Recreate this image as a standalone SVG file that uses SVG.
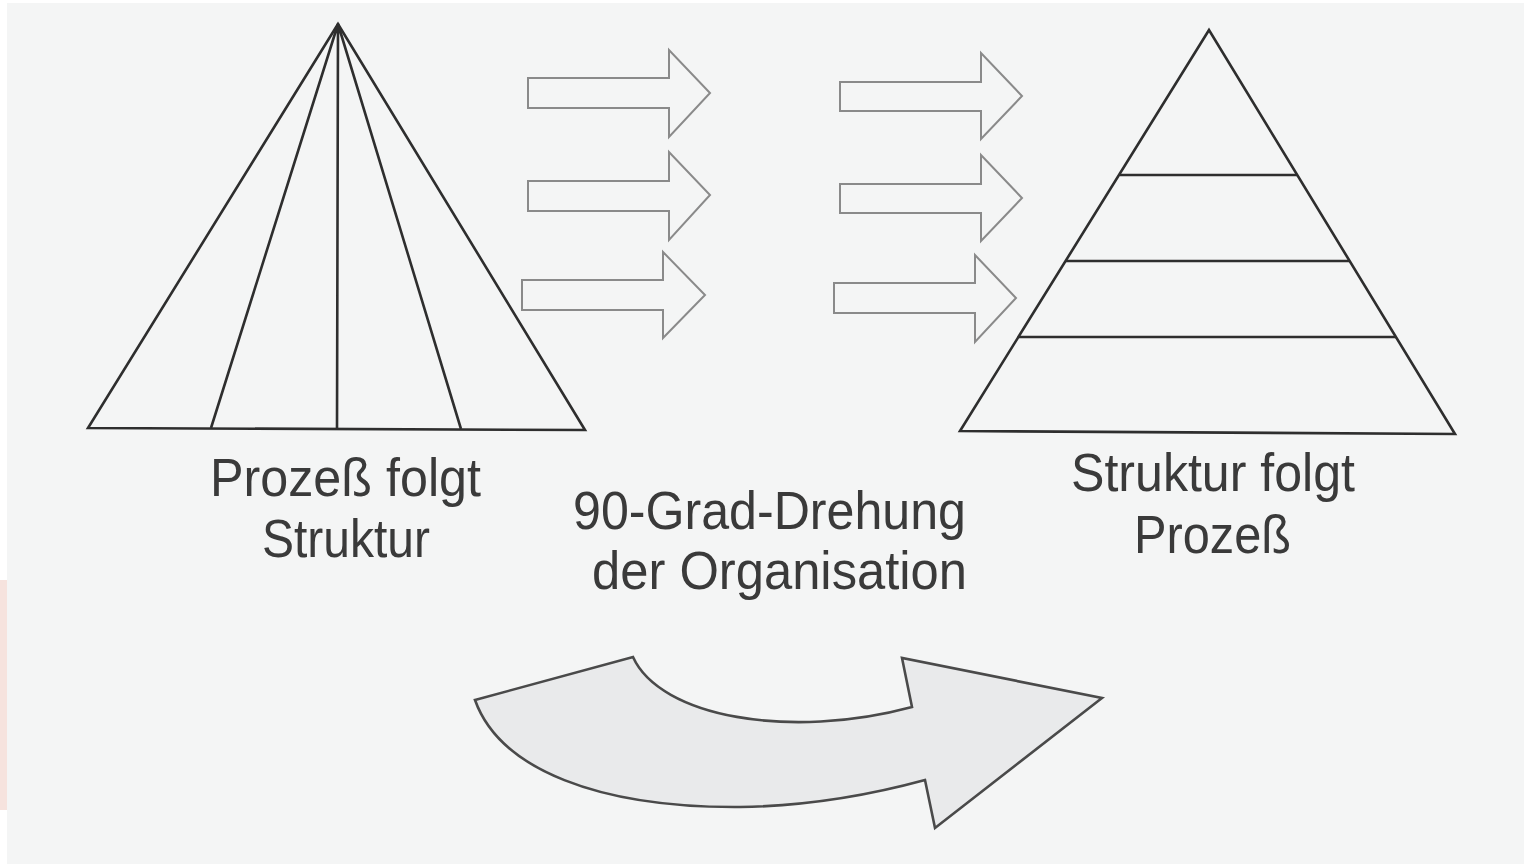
<svg xmlns="http://www.w3.org/2000/svg" width="1524" height="864" viewBox="0 0 1524 864">
<style>
.tri{fill:none;stroke:#2e2e2e;stroke-width:2.6;stroke-linejoin:miter}
.blk{fill:#f4f5f5;stroke:#8a8a8a;stroke-width:2}
.cur{fill:#e9eaeb;stroke:#4a4a4a;stroke-width:2.6;stroke-linejoin:miter}
.lbl{font-family:"Liberation Sans",Arial,sans-serif;font-size:54px;fill:#3a3a3a}
</style>
<rect x="0" y="0" width="1524" height="864" fill="#ffffff"/>
<rect x="0" y="580" width="8" height="230" fill="#f6e3de"/>
<rect x="7" y="3" width="1517" height="861" fill="#f4f5f5"/>

<g id="pyramid-left">
<path class="tri" d="M338,24 L88,428 L585,430 Z"/>
<path class="tri" d="M338,24 L211,428 M338,24 L337,429 M338,24 L461,429"/>
</g>

<g id="pyramid-right">
<path class="tri" d="M1209,30 L960,431 L1455,434 Z"/>
<path class="tri" d="M1120,175 L1297,175 M1066,261 L1350,261 M1019,337 L1396,337"/>
</g>

<g id="connectors">
<path class="blk" d="M528,78 L669,78 L669,50 L710,93 L669,137 L669,108 L528,108 Z"/>
<path class="blk" d="M528,181 L669,181 L669,152 L710,195 L669,240 L669,211 L528,211 Z"/>
<path class="blk" d="M522,280 L663,280 L663,252 L705,295 L663,338 L663,310 L522,310 Z"/>
<path class="blk" d="M840,82 L981,82 L981,53 L1022,96 L981,139 L981,111 L840,111 Z"/>
<path class="blk" d="M840,184 L981,184 L981,155 L1022,198 L981,241 L981,213 L840,213 Z"/>
<path class="blk" d="M834,283 L975,283 L975,255 L1016,298 L975,342 L975,313 L834,313 Z"/>
<path class="cur" d="M475,700 L633,657 C660,717 790,740 912,707 L902,658 L1102,698 L935,828 L925,780 C870,795 810,806 740,807 C600,808 500,770 475,700 Z"/>
</g>

<g id="label-left">
<text class="lbl" x="210" y="496" textLength="271" lengthAdjust="spacingAndGlyphs">Prozeß folgt</text>
<text class="lbl" x="262" y="557" textLength="168" lengthAdjust="spacingAndGlyphs">Struktur</text>
</g>
<g id="label-middle">
<text class="lbl" x="573" y="529" textLength="393" lengthAdjust="spacingAndGlyphs">90-Grad-Drehung</text>
<text class="lbl" x="592" y="589" textLength="375" lengthAdjust="spacingAndGlyphs">der Organisation</text>
</g>
<g id="label-right">
<text class="lbl" x="1071" y="491" textLength="284" lengthAdjust="spacingAndGlyphs">Struktur folgt</text>
<text class="lbl" x="1134" y="553" textLength="157" lengthAdjust="spacingAndGlyphs">Prozeß</text>
</g>
</svg>
